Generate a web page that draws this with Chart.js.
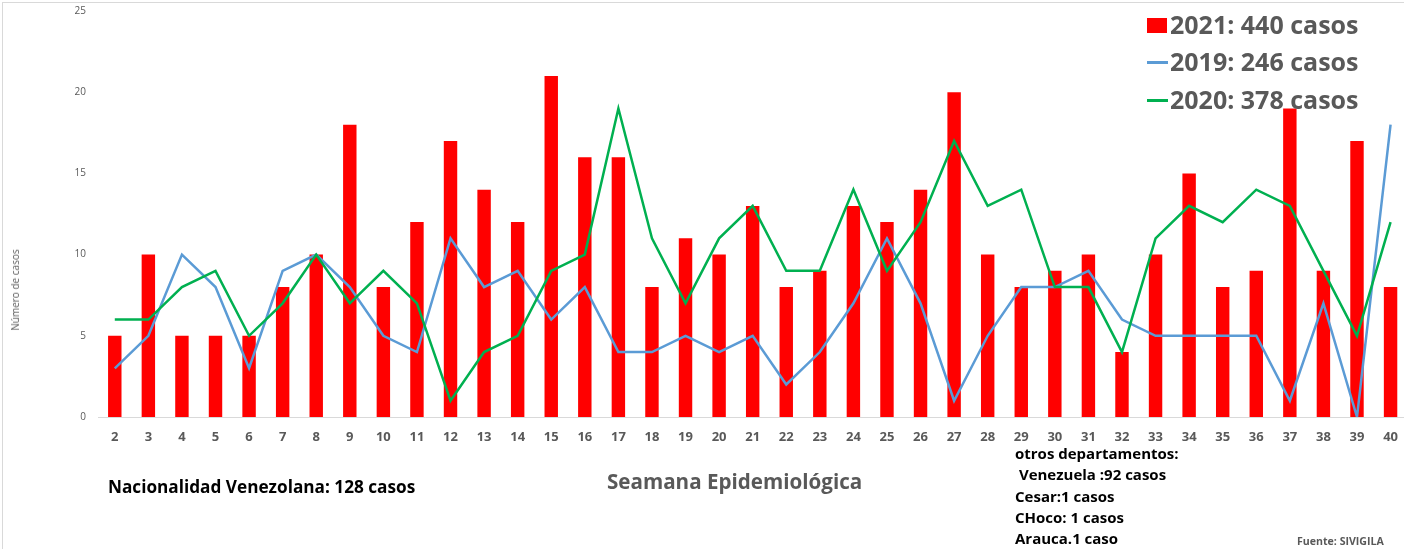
<!DOCTYPE html>
<html>
<head>
<meta charset="utf-8">
<script src="https://cdn.jsdelivr.net/npm/chart.js@4.4.1/dist/chart.umd.min.js"></script>
<style>
  html, body { margin: 0; padding: 0; background: #fff; overflow: hidden; }
  #wrap { position: relative; width: 1404px; height: 549px; overflow: hidden; font-family: 'Open Sans', sans-serif; }
  #frame { position: absolute; left: 2px; top: 2px; width: 1420px; height: 560px; border-left: 1px solid #d9d9d9; border-top: 1px solid #d9d9d9; }
  canvas { position: absolute; left: 0; top: 0; }
  .t { position: absolute; white-space: pre; line-height: 1; }
  .leg { position: absolute; left: 1170px; font-weight: 700; font-size: 25px; color: #595959; white-space: pre; line-height: 1; }
  .sw { position: absolute; }
</style>
</head>
<body>
<div id="wrap">
  <div id="frame"></div>
  <canvas id="c" width="1410" height="549"></canvas>

  <div class="sw" style="left:1147px;top:18px;width:20px;height:15px;background:#ff0000;"></div>
  <div class="sw" style="left:1147px;top:61px;width:21px;height:2.5px;background:#5b9bd5;"></div>
  <div class="sw" style="left:1147px;top:99px;width:21px;height:2.5px;background:#00b050;"></div>
  <div class="leg" id="l0" style="top:12px;"></div>
  <div class="leg" id="l1" style="top:49px;"></div>
  <div class="leg" id="l2" style="top:87px;"></div>

  <div class="t" id="ytitle" style="left:15px;top:290px;font-size:10px;color:#595959;transform:translate(-50%,-50%) rotate(-90deg);">Número de casos</div>
  <div class="t" style="left:607px;top:471px;font-size:20.6px;font-weight:700;color:#595959;">Seamana Epidemiológica</div>
  <div class="t" style="left:108px;top:478px;font-size:17.2px;font-weight:700;color:#000;">Nacionalidad Venezolana: 128 casos</div>
  <div class="t" id="notes" style="left:1015px;top:443px;font-size:15px;font-weight:700;color:#000;line-height:21.3px;"></div>
  <div class="t" style="left:1297px;top:536px;font-size:10.6px;font-weight:700;color:#595959;">Fuente: SIVIGILA</div>
</div>
<script>
// ---- data ----
const weeks = ['2','3','4','5','6','7','8','9','10','11','12','13','14','15','16','17','18','19','20','21','22','23','24','25','26','27','28','29','30','31','32','33','34','35','36','37','38','39','40'];
const cases2021 = [5,10,5,5,5,8,10,18,8,12,17,14,12,21,16,16,8,11,10,13,8,9,13,12,14,20,10,8,9,10,4,10,15,8,9,19,9,17,8];
const cases2019 = [3,5,10,8,3,9,10,8,5,4,11,8,9,6,8,4,4,5,4,5,2,4,7,11,7,1,5,8,8,9,6,5,5,5,5,1,7,0,18];
const cases2020 = [6,6,8,9,5,7,10,7,9,7,1,4,5,9,10,19,11,7,11,13,9,9,14,9,12,17,13,14,8,8,4,11,13,12,14,13,9,5,12];
const seriesLabels = ['2021: 440 casos', '2019: 246 casos', '2020: 378 casos'];
const yTicks = [0, 5, 10, 15, 20, 25];
const notesLines = ['otros departamentos:', ' Venezuela :92 casos', 'Cesar:1 casos', 'CHoco: 1 casos', 'Arauca.1 caso'];

document.getElementById('l0').textContent = seriesLabels[0];
document.getElementById('l1').textContent = seriesLabels[1];
document.getElementById('l2').textContent = seriesLabels[2];
document.getElementById('notes').textContent = notesLines.join('\n');

function build() {
  Chart.defaults.font.family = "'Open Sans', sans-serif";
  new Chart(document.getElementById('c'), {
    data: {
      labels: weeks,
      datasets: [
        { type: 'line', label: seriesLabels[2], data: cases2020, borderColor: '#00b050', backgroundColor: '#00b050', borderWidth: 2.5, pointRadius: 0, tension: 0, order: 1 },
        { type: 'line', label: seriesLabels[1], data: cases2019, borderColor: '#5b9bd5', backgroundColor: '#5b9bd5', borderWidth: 2.5, pointRadius: 0, tension: 0, order: 2 },
        { type: 'bar', label: seriesLabels[0], data: cases2021, backgroundColor: '#ff0000', borderWidth: 0, barPercentage: 0.8, categoryPercentage: 0.5, order: 3 }
      ]
    },
    options: {
      responsive: false,
      animation: false,
      layout: { padding: { top: 11, left: 0, right: 0, bottom: 0 } },
      plugins: { legend: { display: false }, tooltip: { enabled: false }, title: { display: false } },
      scales: {
        x: {
          type: 'category',
          offset: true,
          grid: { display: true, drawOnChartArea: false, drawTicks: false, color: 'rgba(0,0,0,0)' },
          border: { display: true, color: '#d9d9d9', width: 1 },
          ticks: { color: '#595959', font: { size: 13, weight: 'bold' }, padding: 12, maxRotation: 0, autoSkip: false },
          afterFit: s => { s.height = 132; }
        },
        y: {
          min: 0, max: 25,
          grid: { display: false, drawTicks: false },
          border: { display: false },
          afterBuildTicks: s => { s.ticks = yTicks.map(v => ({ value: v })); },
          ticks: { color: '#595959', font: { size: 10 }, padding: 12 },
          afterFit: s => { s.width = 98; s.paddingTop = 0; s.paddingBottom = 0; }
        }
      }
    }
  });
}
Promise.all([
  document.fonts.load("bold 13px 'Open Sans'"),
  document.fonts.load("10px 'Open Sans'")
]).then(build, build);
</script>
</body>
</html>
